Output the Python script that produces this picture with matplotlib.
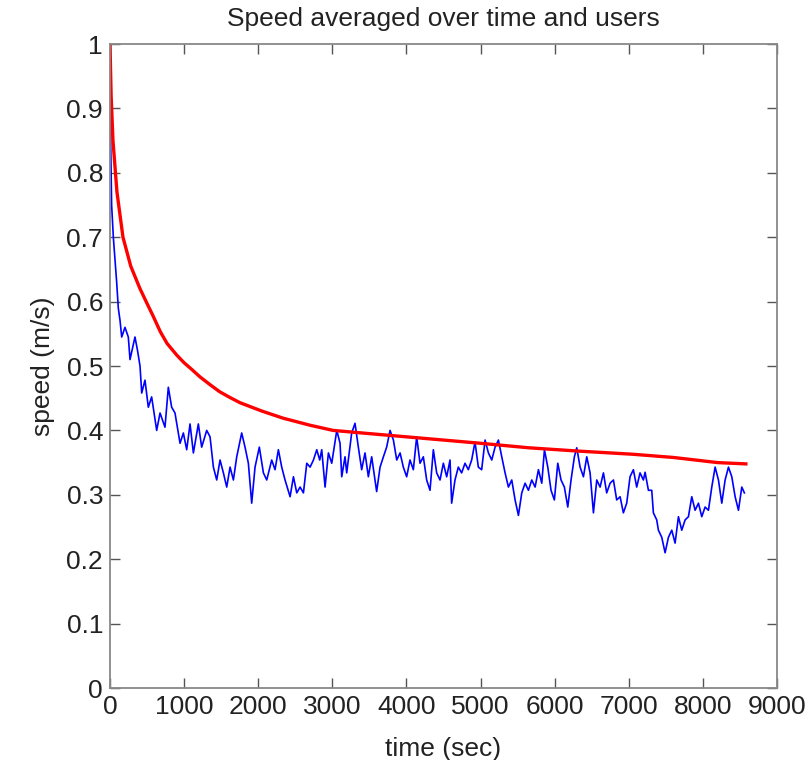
import matplotlib
matplotlib.use("Agg")
import matplotlib.pyplot as plt

# Red: smoothed average speed
red_t = [0, 15, 40, 94, 175, 280, 405, 500, 580, 680, 770, 900, 1000, 1100, 1215, 1350,
         1480, 1620, 1754, 2050, 2335, 2700, 3010, 3500, 4200, 5000, 5650, 6300, 7050,
         7600, 8200, 8580]
red_v = [1.0, 0.92, 0.85, 0.77, 0.70, 0.655, 0.62, 0.597, 0.578, 0.553, 0.535, 0.517,
         0.505, 0.495, 0.483, 0.471, 0.46, 0.451, 0.443, 0.43, 0.419, 0.408, 0.40, 0.395,
         0.388, 0.38, 0.373, 0.368, 0.363, 0.358, 0.35, 0.348]

# Blue: instantaneous average speed
blue_t = [0, 10, 22, 45, 70, 90, 112, 135, 158, 202, 247, 270, 337, 370, 405, 428, 472, 517,
          562, 630, 675, 742, 787, 832, 877, 945, 990, 1035, 1080, 1125, 1192, 1237, 1305,
          1350, 1395, 1440, 1485, 1530, 1575, 1620, 1665, 1710, 1777, 1822, 1867, 1912,
          1957, 2015, 2070, 2115, 2182, 2227, 2272, 2317, 2362, 2430, 2475, 2520, 2565,
          2610, 2655, 2700, 2745, 2790, 2830, 2857, 2902, 2947, 2992, 3060, 3104, 3127,
          3171, 3194, 3261, 3306, 3351, 3396, 3441, 3486, 3531, 3598, 3644, 3689, 3733,
          3779, 3824, 3869, 3914, 3958, 4003, 4048, 4093, 4138, 4183, 4228, 4273, 4318,
          4363, 4408, 4453, 4498, 4543, 4588, 4610, 4655, 4700, 4745, 4790, 4835, 4880,
          4925, 4970, 5015, 5061, 5106, 5151, 5196, 5241, 5286, 5331, 5376, 5421, 5466,
          5511, 5556, 5601, 5646, 5691, 5736, 5781, 5826, 5862, 5907, 5951, 5996, 6042,
          6086, 6131, 6177, 6221, 6266, 6298, 6343, 6388, 6433, 6478, 6523, 6568, 6613,
          6658, 6702, 6748, 6793, 6837, 6883, 6927, 6972, 7017, 7062, 7107, 7152, 7197,
          7220, 7265, 7310, 7332, 7377, 7400, 7445, 7490, 7535, 7580, 7625, 7670, 7715,
          7760, 7805, 7850, 7895, 7940, 7985, 8030, 8075, 8120, 8165, 8210, 8255, 8300,
          8345, 8390, 8435, 8480, 8525, 8560]
blue_v = [0.95, 0.84, 0.75, 0.70, 0.66, 0.63, 0.59, 0.571, 0.545, 0.56, 0.545, 0.51, 0.545,
          0.525, 0.50, 0.458, 0.478, 0.436, 0.452, 0.40, 0.427, 0.405, 0.467, 0.436, 0.427,
          0.38, 0.396, 0.37, 0.41, 0.365, 0.41, 0.374, 0.40, 0.39, 0.343, 0.323, 0.354,
          0.334, 0.312, 0.343, 0.323, 0.359, 0.396, 0.374, 0.349, 0.287, 0.343, 0.374,
          0.334, 0.323, 0.354, 0.339, 0.37, 0.343, 0.323, 0.297, 0.328, 0.303, 0.312,
          0.303, 0.349, 0.343, 0.354, 0.37, 0.354, 0.37, 0.312, 0.365, 0.349, 0.40, 0.38,
          0.328, 0.359, 0.334, 0.396, 0.411, 0.374, 0.339, 0.365, 0.328, 0.359, 0.305,
          0.343, 0.359, 0.374, 0.40, 0.385, 0.354, 0.365, 0.343, 0.328, 0.354, 0.339,
          0.39, 0.349, 0.359, 0.323, 0.307, 0.37, 0.334, 0.323, 0.349, 0.328, 0.354,
          0.287, 0.323, 0.343, 0.334, 0.349, 0.339, 0.354, 0.382, 0.343, 0.339, 0.385,
          0.365, 0.354, 0.374, 0.385, 0.359, 0.334, 0.312, 0.323, 0.292, 0.268, 0.303,
          0.318, 0.307, 0.323, 0.312, 0.339, 0.318, 0.37, 0.343, 0.307, 0.292, 0.349,
          0.323, 0.312, 0.281, 0.323, 0.359, 0.373, 0.343, 0.328, 0.359, 0.334, 0.272,
          0.323, 0.312, 0.334, 0.303, 0.318, 0.323, 0.292, 0.297, 0.272, 0.287, 0.328,
          0.339, 0.312, 0.334, 0.323, 0.335, 0.307, 0.307, 0.272, 0.261, 0.245, 0.234,
          0.21, 0.234, 0.245, 0.225, 0.266, 0.245, 0.261, 0.266, 0.297, 0.276, 0.287,
          0.266, 0.281, 0.276, 0.312, 0.343, 0.323, 0.287, 0.323, 0.343, 0.328, 0.297,
          0.276, 0.312, 0.303]

x_ticks = [0, 1000, 2000, 3000, 4000, 5000, 6000, 7000, 8000, 9000]
y_ticks = [0, 0.1, 0.2, 0.3, 0.4, 0.5, 0.6, 0.7, 0.8, 0.9, 1]
y_labels = ["0", "0.1", "0.2", "0.3", "0.4", "0.5", "0.6", "0.7", "0.8", "0.9", "1"]

plt.rcParams['font.family'] = ['Liberation Sans', 'DejaVu Sans']
FS = 19

fig = plt.figure(figsize=(8.11, 7.60), dpi=100)
ax = fig.add_axes([110/811, 1-688/760, 667/811, 644/760])

ax.plot(blue_t, blue_v, color=(0, 0, 1), lw=1.2)
ax.plot(red_t, red_v, color=(1, 0, 0), lw=2.4)

ax.set_xlim(0, 9000)
ax.set_ylim(0, 1)
ax.set_xticks(x_ticks)
ax.set_xticklabels([str(v) for v in x_ticks])
ax.set_yticks(y_ticks)
ax.set_yticklabels(y_labels)
ax.tick_params(direction='in', length=7, width=1, top=True, right=True,
               labelsize=FS, colors='#555555', labelcolor='#222222', pad=5)
for s in ax.spines.values():
    s.set_color('#888888')
    s.set_linewidth(1.3)

ax.set_title("Speed averaged over time and users", fontsize=FS, pad=13, color='#222222')
ax.set_xlabel("time (sec)", fontsize=FS, labelpad=13, color='#222222')
ax.set_ylabel("speed (m/s)", fontsize=FS, labelpad=8, color='#222222')

fig.savefig("out.png", dpi=100, facecolor='white')
